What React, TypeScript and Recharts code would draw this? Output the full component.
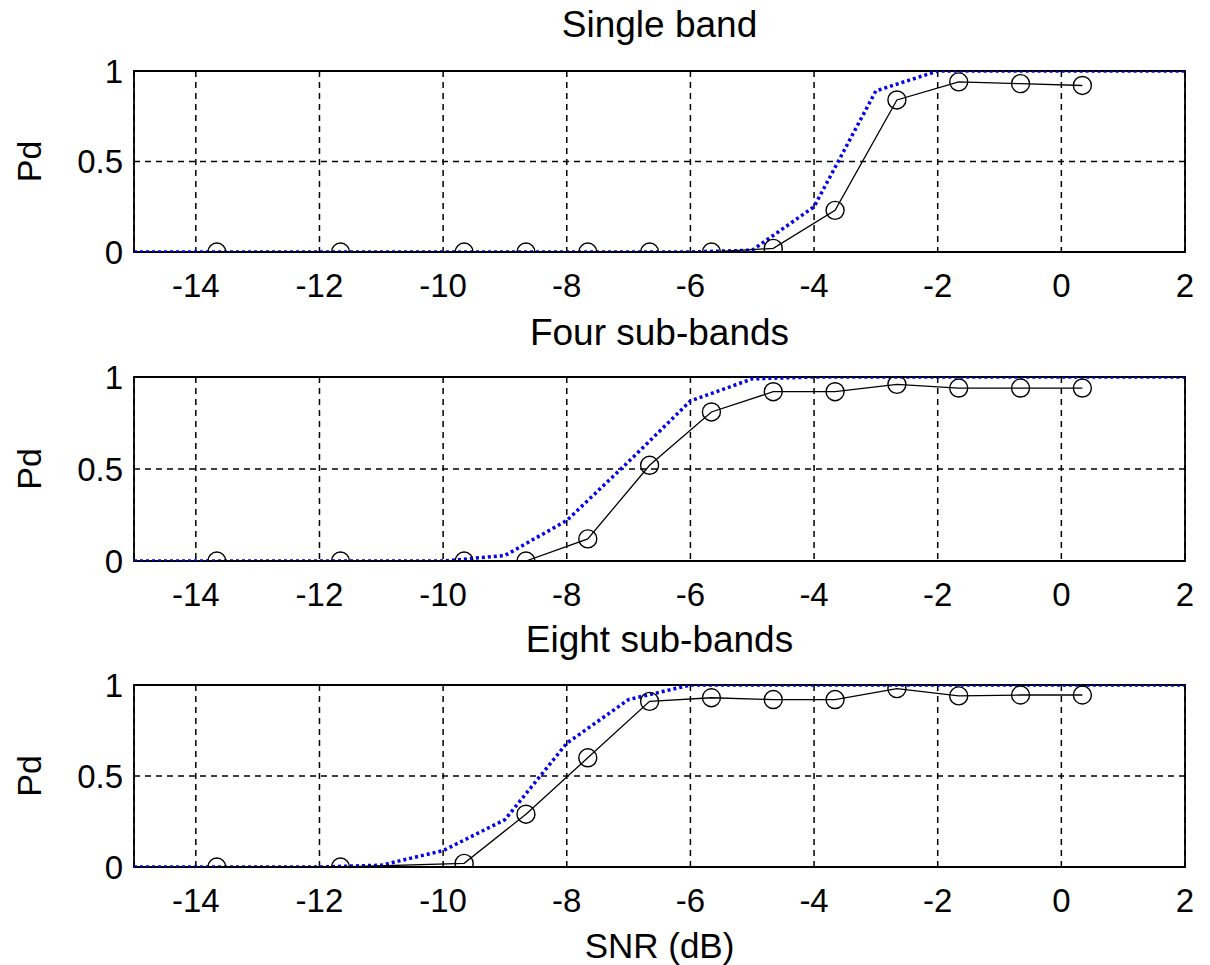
import React from 'react';
import { LineChart, Line, XAxis, YAxis, CartesianGrid, ReferenceArea } from 'recharts';

const FONT = '"Liberation Sans", Arial, Helvetica, sans-serif';

// SNR values (dB) of simulated points (circles)
const snrMeasured = [-13.66, -11.66, -9.66, -8.66, -7.66, -6.66, -5.66, -4.66, -3.66, -2.66, -1.66, -0.66, 0.34];
// SNR values (dB) of theoretical curve (blue dotted)
const snrTheory = [-15, -14, -13, -12, -11, -10, -9, -8, -7, -6, -5, -4, -3, -2, -1, 0, 1, 2];

const singleMeasured = [0, 0, 0, 0, 0, 0, 0, 0.02, 0.23, 0.84, 0.94, 0.93, 0.92];
const singleTheory = [0, 0, 0, 0, 0, 0, 0, 0, 0, 0, 0.01, 0.25, 0.89, 1, 1, 1, 1, 1];

const fourMeasured = [0, 0, 0, 0, 0.12, 0.52, 0.81, 0.92, 0.92, 0.96, 0.94, 0.94, 0.94];
const fourTheory = [0, 0, 0, 0, 0, 0, 0.03, 0.22, 0.54, 0.87, 0.99, 1, 1, 1, 1, 1, 1, 1];

const eightMeasured = [0, 0, 0.02, 0.29, 0.6, 0.91, 0.93, 0.92, 0.92, 0.98, 0.94, 0.945, 0.945];
const eightTheory = [0, 0, 0, 0, 0.01, 0.09, 0.26, 0.68, 0.92, 1, 1, 1, 1, 1, 1, 1, 1, 1];

const xTicks = [-14, -12, -10, -8, -6, -4, -2, 0, 2];
const yTicks = [0, 0.5, 1];

const titles = ['Single band', 'Four sub-bands', 'Eight sub-bands'];
const xLabel = 'SNR (dB)';
const yLabel = 'Pd';

const toPts = (xs: number[], ys: number[]) => xs.map((x, i) => ({ x, y: ys[i] }));

type PanelProps = {
  measured: number[];
  theory: number[];
  top: number;
  height: number;
  marginTop: number;
  xAxisHeight: number;
};

function Panel({ measured, theory, top, height, marginTop, xAxisHeight }: PanelProps) {
  return (
    <div style={{ position: 'absolute', left: 0, top, width: 1210, height }}>
      <LineChart width={1210} height={height} margin={{ top: marginTop, right: 25, bottom: 0, left: 0 }}>
        <CartesianGrid stroke="#000" strokeWidth={1.5} strokeDasharray="6 5" />
        <XAxis
          type="number"
          dataKey="x"
          domain={[-15, 2]}
          ticks={xTicks}
          allowDataOverflow
          axisLine={false}
          tickLine={false}
          tickSize={0}
          tickMargin={22}
          height={xAxisHeight}
          interval={0}
          tick={{ fill: '#000', fontSize: 33, fontFamily: FONT }}
        />
        <YAxis
          type="number"
          dataKey="y"
          domain={[0, 1]}
          ticks={yTicks}
          allowDataOverflow
          axisLine={false}
          tickLine={false}
          tickSize={0}
          tickMargin={11}
          width={134}
          interval={0}
          tick={{ fill: '#000', fontSize: 33, fontFamily: FONT }}
          label={{
            value: yLabel,
            angle: -90,
            position: 'insideLeft',
            offset: 29,
            style: { textAnchor: 'middle', fill: '#000', fontSize: 34, fontFamily: FONT },
          }}
        />
        <ReferenceArea x1={-15} x2={2} y1={0} y2={1} fill="none" stroke="#000" strokeWidth={1.8} ifOverflow="visible" />
        <Line
          data={toPts(snrTheory, theory)}
          dataKey="y"
          type="linear"
          stroke="#0000ee"
          strokeWidth={3.5}
          strokeDasharray="3 3"
          dot={false}
          activeDot={false}
          isAnimationActive={false}
        />
        <Line
          data={toPts(snrMeasured, measured)}
          dataKey="y"
          type="linear"
          stroke="#000"
          strokeWidth={1.3}
          dot={{ r: 9, stroke: '#000', strokeWidth: 1.4, fill: 'none' }}
          activeDot={false}
          isAnimationActive={false}
        />
      </LineChart>
    </div>
  );
}

const titleStyle = (top: number, size: number): React.CSSProperties => ({
  position: 'absolute',
  left: 134,
  width: 1051,
  top,
  textAlign: 'center',
  fontFamily: FONT,
  fontSize: size,
  lineHeight: `${size}px`,
  color: '#000',
  whiteSpace: 'nowrap',
});

export default function App() {
  return (
    <div style={{ position: 'absolute', left: 0, top: 0, width: 1210, height: 965, background: '#fff', overflow: 'hidden' }}>
      <Panel measured={singleMeasured} theory={singleTheory} top={0} height={310} marginTop={71} xAxisHeight={58} />
      <Panel measured={fourMeasured} theory={fourTheory} top={310} height={310} marginTop={67} xAxisHeight={59} />
      <Panel measured={eightMeasured} theory={eightTheory} top={620} height={345} marginTop={65} xAxisHeight={98} />
      <div style={titleStyle(6, 37)}>{titles[0]}</div>
      <div style={titleStyle(314, 37)}>{titles[1]}</div>
      <div style={titleStyle(621, 37)}>{titles[2]}</div>
      <div style={titleStyle(928, 35)}>{xLabel}</div>
    </div>
  );
}
